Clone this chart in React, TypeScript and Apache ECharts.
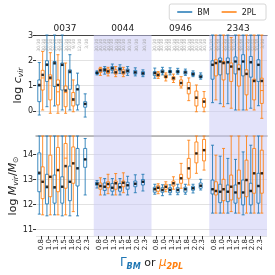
import React, { useEffect, useRef } from 'react';
import * as echarts from 'echarts';

const halos = ['0037', '0044', '0946', '2343'];
const indexLabels = ['0.8', '1.0', '1.3', '1.5', '1.8', '2.0', '2.3'];

// each entry: [whiskerLow, q1, median, q3, whiskerHigh, mean]; null = no fit
const cvirBM = [
  [-0.17, 0.36, 0.98, 1.22, 1.91, 1.02], [0.16, 1.16, 1.85, 1.98, 3.4, 1.82], [0.19, 0.96, 1.85, 1.95, 3.4, 1.89], [0.03, 0.82, 1.8, 1.89, 3.4, 1.82], [0.03, 0.85, 1.5, 1.62, 2.22, 1.55], [0.03, 0.23, 0.85, 1.02, 1.49, 0.85], [-0.25, 0.14, 0.27, 0.36, 0.67, 0.27],
  [1.42, 1.46, 1.5, 1.54, 1.58, 1.5], [1.45, 1.55, 1.62, 1.68, 1.75, 1.62], [1.5, 1.6, 1.68, 1.75, 1.85, 1.68], [1.48, 1.58, 1.65, 1.72, 1.82, 1.65], [1.4, 1.5, 1.58, 1.65, 1.75, 1.58], [1.38, 1.45, 1.52, 1.6, 1.7, 1.52], [1.35, 1.42, 1.48, 1.55, 1.62, 1.48],
  [1.29, 1.39, 1.49, 1.55, 1.69, 1.49], [1.42, 1.5, 1.55, 1.62, 1.72, 1.55], [1.42, 1.5, 1.55, 1.6, 1.7, 1.55], [1.45, 1.5, 1.55, 1.6, 1.68, 1.55], [1.4, 1.45, 1.52, 1.58, 1.65, 1.52], [1.35, 1.4, 1.45, 1.52, 1.58, 1.45], [1.25, 1.3, 1.35, 1.42, 1.5, 1.35],
  [0.32, 1.25, 1.82, 1.98, 3.4, 1.82], [0.28, 1.42, 1.95, 2.09, 3.4, 1.95], [0.28, 1.46, 1.92, 2.09, 3.4, 1.92], [0.03, 1.46, 1.95, 2.13, 3.4, 1.95], [0.03, 1.38, 1.95, 2.22, 3.4, 1.95], [0.1, 1.33, 1.92, 2.15, 3.4, 1.92], [0.2, 1.16, 1.82, 2.02, 3.4, 1.82],
];
const cvir2PL = [
  [0.03, 0.82, 1.3, 1.6, 2.35, 1.42], [-0.1, 0.43, 1.25, 1.42, 2.3, 1.31], [-0.1, 0.23, 0.75, 1.22, 2.22, 1.02], [-0.1, 0.16, 0.72, 0.98, 1.89, 0.8], [-0.04, 0.19, 0.4, 0.72, 1.22, 0.45], null, null,
  [1.4, 1.52, 1.6, 1.68, 1.72, 1.6], [1.38, 1.48, 1.56, 1.65, 1.72, 1.56], [1.35, 1.45, 1.52, 1.62, 1.75, 1.52], [1.35, 1.45, 1.52, 1.62, 1.72, 1.52], null, null, null,
  [1.28, 1.35, 1.42, 1.5, 1.55, 1.42], [1.18, 1.3, 1.35, 1.42, 1.5, 1.35], [1.12, 1.22, 1.29, 1.35, 1.45, 1.29], [0.9, 0.98, 1.1, 1.22, 1.35, 1.1], [0.4, 0.67, 0.88, 1.12, 1.3, 0.89], [-0.04, 0.19, 0.5, 0.78, 1.02, 0.52], [-0.04, 0.14, 0.38, 0.49, 0.76, 0.36],
  [0.43, 1.38, 1.89, 2.02, 3.4, 1.89], [0.16, 1.22, 1.89, 1.95, 3.4, 1.89], [0.1, 1.16, 1.75, 1.89, 2.9, 1.75], [0.03, 0.98, 1.65, 1.82, 3.4, 1.65], [0.03, 0.63, 1.46, 1.62, 3.4, 1.46], [0.03, 0.43, 1.18, 1.25, 3.4, 1.18], [-0.3, 0.29, 0.8, 1.29, 3.4, 1.18],
];
const mvirBM = [
  [11.6, 12.5, 13.2, 14.06, 15, 13.26], [11.53, 12.01, 12.65, 13.2, 15, 12.7], [11.57, 12.04, 12.65, 13.17, 15, 12.68], [11.53, 12.04, 12.7, 13.1, 15, 12.7], [11.53, 12.14, 12.9, 13.53, 15, 12.9], [11.53, 12.73, 13.45, 14.24, 15, 13.44], [12.37, 13.48, 13.8, 14.24, 14.64, 13.8],
  [12.65, 12.76, 12.82, 12.88, 12.95, 12.82], [12.37, 12.55, 12.7, 12.85, 13.03, 12.7], [12.37, 12.52, 12.66, 12.83, 13.03, 12.66], [12.37, 12.52, 12.68, 12.83, 13.03, 12.68], [12.37, 12.6, 12.75, 12.88, 13.12, 12.76], [12.46, 12.7, 12.82, 12.93, 13.18, 12.82], [12.53, 12.77, 12.9, 12.99, 13.2, 12.9],
  [12.4, 12.48, 12.6, 12.68, 12.8, 12.6], [12.34, 12.48, 12.57, 12.66, 12.78, 12.57], [12.38, 12.46, 12.57, 12.66, 12.78, 12.57], [12.38, 12.46, 12.57, 12.66, 12.8, 12.57], [12.4, 12.48, 12.6, 12.68, 12.8, 12.6], [12.45, 12.56, 12.64, 12.72, 12.8, 12.64], [12.57, 12.64, 12.74, 12.85, 13.0, 12.74],
  [11.64, 12.41, 12.6, 12.97, 14.37, 12.6], [11.64, 12.06, 12.5, 12.8, 13.93, 12.5], [11.64, 12.1, 12.5, 12.77, 13.84, 12.5], [11.64, 12.04, 12.47, 12.77, 13.8, 12.47], [11.57, 11.97, 12.47, 12.97, 14.1, 12.47], [11.64, 11.97, 12.53, 12.84, 14.37, 12.53], [11.64, 12.04, 12.73, 13.24, 15, 12.73],
];
const mvir2PL = [
  [11.57, 12.22, 12.9, 13.5, 15, 12.9], [11.57, 12.3, 13.1, 13.97, 15, 13.1], [11.57, 12.5, 13.35, 14.28, 15, 13.37], [11.57, 12.64, 13.85, 14.44, 15, 13.53], [11.7, 12.84, 13.65, 14.3, 15, 13.64], null, null,
  [12.37, 12.6, 12.73, 12.85, 13.06, 12.73], [12.42, 12.66, 12.8, 12.9, 13.2, 12.81], [12.37, 12.6, 12.84, 12.93, 13.23, 12.84], [12.46, 12.7, 12.86, 12.93, 13.26, 12.86], null, null, null,
  [12.42, 12.52, 12.66, 12.74, 12.82, 12.66], [12.5, 12.6, 12.7, 12.8, 12.9, 12.7], [12.6, 12.73, 12.84, 12.93, 13.1, 12.84], [12.64, 12.84, 13.04, 13.2, 13.64, 13.04], [12.77, 13.04, 13.44, 13.84, 14.57, 13.44], [13.24, 13.66, 14.04, 14.5, 15, 14.04], [13.37, 13.74, 14.17, 14.6, 15, 14.17],
  [11.64, 12.37, 12.53, 12.9, 13.97, 12.53], [11.64, 12.14, 12.6, 13.0, 14.24, 12.6], [11.7, 12.17, 12.7, 13.17, 15, 12.7], [11.64, 12.24, 12.84, 13.37, 15, 12.84], [11.64, 12.3, 12.97, 13.77, 15, 12.97], [11.64, 12.44, 13.24, 14.24, 15, 13.24], [11.64, 12.44, 13.24, 14.17, 15, 13.24],
];
// small grey fit-count notes above each pair
const fitNotes = [
  '30/30\n30/30', '30/30\n30/30', '30/30\n30/30', '30/30\n30/30', '30/30\n9/30', '12/30', '3/30',
  '30/30\n30/30', '30/30\n30/30', '30/30\n30/30', '30/30\n30/30', '30/30', '30/30', '30/30',
  '30/30\n30/30', '30/30\n30/30', '30/30\n30/30', '30/30\n30/30', '30/30\n30/30', '30/30\n30/30', '30/30\n30/30',
  '30/30\n30/30', '30/30\n30/30', '30/30\n30/30', '30/30\n30/30', '30/30\n30/30', '30/30\n30/30', '30/30\n3/30',
];

const BLUE = '#1f77b4';
const ORANGE = '#ff7f0e';
const GROUP_SPAN = 7.55;
const FIRST = 0.65;
const DODGE = 0.22;
const XMAX = 4 * GROUP_SPAN;
const CV = [-1, 3];
const MV = [10.72, 14.74];

const pairCenter = (i: number) => Math.floor(i / 7) * GROUP_SPAN + FIRST + (i % 7);
const groupCenter = (g: number) => g * GROUP_SPAN + 3.8;
const centers = halos.flatMap((_, g) => indexLabels.map((__, k) => pairCenter(g * 7 + k)));

function boxData(rows: (number[] | null)[], shift: number, range: number[]) {
  const out: number[][] = [];
  rows.forEach((r, i) => {
    if (!r) return;
    const c = (v: number) => Math.max(range[0], Math.min(range[1], v));
    out.push([pairCenter(i) + shift, c(r[0]), c(r[1]), c(r[2]), c(r[3]), c(r[4])]);
  });
  return out;
}
function meanData(rows: (number[] | null)[], shift: number) {
  const out: number[][] = [];
  rows.forEach((r, i) => { if (r) out.push([pairCenter(i) + shift, r[5]]); });
  return out;
}

export default function App() {
  const ref = useRef<HTMLDivElement>(null);
  useEffect(() => {
    if (!ref.current) return;
    const chart = echarts.init(ref.current, null, { renderer: 'svg' });
    const shaded = [[{ xAxis: GROUP_SPAN }, { xAxis: 2 * GROUP_SPAN }], [{ xAxis: 3 * GROUP_SPAN }, { xAxis: 4 * GROUP_SPAN }]];
    const markArea = { silent: true, itemStyle: { color: 'rgba(200,200,245,0.5)' }, data: shaded };
    const boxStyle = (col: string) => ({ color: 'rgba(255,255,255,0)', borderColor: col, borderWidth: 1, opacity: 0.85 });
    const meanSeries = (rows: any, shift: number, xi: number, yi: number) => ({
      type: 'scatter', xAxisIndex: xi, yAxisIndex: yi, symbol: 'rect', symbolSize: 2.5, z: 5,
      itemStyle: { color: '#000' }, data: meanData(rows, shift), silent: true,
    });
    const labelFor = (v: number) => {
      const i = centers.findIndex((c) => Math.abs(c - v) < 0.01);
      return i >= 0 ? indexLabels[i % 7] : '';
    };
    const hidden = (gi: number) => ({ type: 'value', gridIndex: gi, min: 0, max: XMAX, show: false });
    const yRich = {
      n: { fontSize: 11, color: '#222', lineHeight: 14 },
      i: { fontSize: 11, color: '#222', fontStyle: 'italic', lineHeight: 14 },
      s: { fontSize: 7.5, color: '#222', fontStyle: 'italic', lineHeight: 8, verticalAlign: 'bottom' },
    };
    chart.setOption({
      animation: false,
      textStyle: { fontFamily: 'DejaVu Sans' },
      legend: {
        top: 4, right: 9, icon: 'rect', itemWidth: 15, itemHeight: 1.5, itemGap: 12,
        borderColor: '#ccc', borderWidth: 0.8, borderRadius: 2, padding: [4, 10, 4, 8],
        textStyle: { fontSize: 8, color: '#222' },
        data: [{ name: 'BM', itemStyle: { color: BLUE, borderWidth: 0 } }, { name: '2PL', itemStyle: { color: ORANGE, borderWidth: 0 } }],
      },
      grid: [
        { left: 36, right: 8, top: 35, height: 101, outerBoundsMode: 'none', containLabel: false },
        { left: 36, right: 8, top: 136, height: 100, outerBoundsMode: 'none', containLabel: false },
      ],
      xAxis: [
        {
          type: 'value', gridIndex: 0, min: 0, max: XMAX, position: 'top',
          axisLine: { show: true, onZero: false, lineStyle: { color: '#444', width: 1 } },
          axisTick: { show: false }, splitLine: { show: false },
          axisLabel: {
            customValues: halos.map((_, g) => groupCenter(g)), margin: 3, fontSize: 9, color: '#222',
            formatter: (v: number) => halos[Math.round((v - 3.8) / GROUP_SPAN)] ?? '',
          },
        },
        hidden(0),
        {
          type: 'value', gridIndex: 1, min: 0, max: XMAX, position: 'bottom',
          axisLine: { show: false, onZero: false },
          axisTick: { show: true, customValues: centers, length: 3, lineStyle: { color: '#333' } },
          splitLine: { show: false },
          axisLabel: { customValues: centers, rotate: 90, fontSize: 7, color: '#222', margin: 3, formatter: labelFor },
          name: '{gb|Γ}{sb|BM}{n| or }{go|μ}{so|2PL}', nameLocation: 'middle', nameGap: 18, nameMoveOverlap: false,
          nameTextStyle: {
            rich: {
              gb: { fontSize: 12, color: BLUE, lineHeight: 16 },
              sb: { fontSize: 8, color: BLUE, fontStyle: 'italic', fontWeight: 'bold', lineHeight: 9, verticalAlign: 'bottom' },
              n: { fontSize: 11, color: '#222', lineHeight: 16 },
              go: { fontSize: 12, color: ORANGE, fontStyle: 'italic', lineHeight: 16 },
              so: { fontSize: 8, color: ORANGE, fontStyle: 'italic', fontWeight: 'bold', lineHeight: 9, verticalAlign: 'bottom' },
            },
          },
        },
        {
          type: 'value', gridIndex: 1, min: 0, max: XMAX, position: 'top',
          axisLine: { show: true, onZero: false, lineStyle: { color: '#aaa', width: 1.5 } },
          axisTick: { show: false }, axisLabel: { show: false }, splitLine: { show: false },
        },
      ],
      yAxis: [
        {
          type: 'value', gridIndex: 0, min: CV[0], max: CV[1], interval: 1,
          axisLine: { show: false, onZero: false },
          axisTick: { show: true, length: 3, lineStyle: { color: '#333' } },
          axisLabel: { fontSize: 8, color: '#222', margin: 3, showMinLabel: false },
          splitLine: { lineStyle: { color: '#e2e2e2', width: 1 } },
          name: '{n|log }{i|c}{s|vir}', nameLocation: 'middle', nameGap: 12, nameMoveOverlap: false,
          nameTextStyle: { rich: yRich },
        },
        {
          type: 'value', gridIndex: 1, min: MV[0], max: MV[1],
          axisLine: { show: false, onZero: false },
          axisTick: { show: true, length: 3, lineStyle: { color: '#333' } },
          axisLabel: { fontSize: 8, color: '#222', margin: 3, showMinLabel: false, showMaxLabel: false },
          splitLine: { lineStyle: { color: '#e2e2e2', width: 1 } },
          name: '{n|log }{i|M}{s|vir}{n|/}{i|M}{s|⊙}', nameLocation: 'middle', nameGap: 17, nameMoveOverlap: false,
          nameTextStyle: { rich: yRich },
        },
      ],
      series: [
        { name: 'BM', type: 'boxplot', xAxisIndex: 0, yAxisIndex: 0, boxWidth: [3, 3], itemStyle: boxStyle(BLUE), data: boxData(cvirBM, -DODGE, CV), markArea, silent: true },
        { name: '2PL', type: 'boxplot', xAxisIndex: 1, yAxisIndex: 0, boxWidth: [3, 3], itemStyle: boxStyle(ORANGE), data: boxData(cvir2PL, DODGE, CV), silent: true },
        { name: 'BM', type: 'boxplot', xAxisIndex: 2, yAxisIndex: 1, boxWidth: [3, 3], itemStyle: boxStyle(BLUE), data: boxData(mvirBM, -DODGE, MV), markArea, silent: true },
        { name: '2PL', type: 'boxplot', xAxisIndex: 3, yAxisIndex: 1, boxWidth: [3, 3], itemStyle: boxStyle(ORANGE), data: boxData(mvir2PL, DODGE, MV), silent: true },
        meanSeries(cvirBM, -DODGE, 0, 0),
        meanSeries(cvir2PL, DODGE, 1, 0),
        meanSeries(mvirBM, -DODGE, 2, 1),
        meanSeries(mvir2PL, DODGE, 3, 1),
        {
          type: 'scatter', xAxisIndex: 0, yAxisIndex: 0, symbolSize: 0, silent: true, z: 6,
          data: fitNotes.map((t, i) => [pairCenter(i), 2.86]),
          label: {
            show: true, position: 'inside', rotate: 90, align: 'right', verticalAlign: 'middle',
            fontSize: 4.5, lineHeight: 4.5, color: '#999',
            formatter: (p: any) => fitNotes[p.dataIndex],
          },
        },
      ],
    });
    return () => chart.dispose();
  }, []);
  return <div ref={ref} style={{ position: 'fixed', left: 0, top: 0, width: 275, height: 275 }} />;
}
